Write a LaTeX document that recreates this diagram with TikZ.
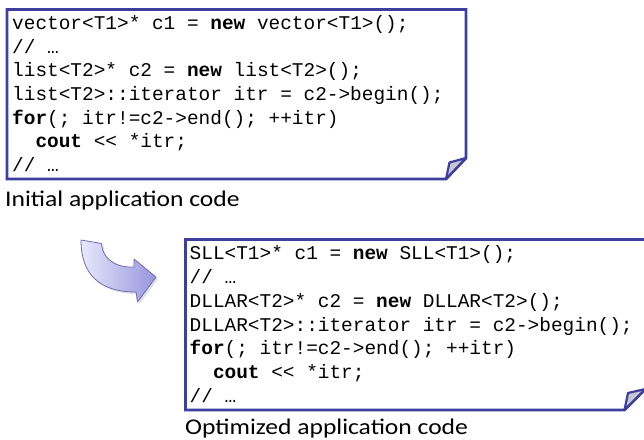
\documentclass[tikz,border=0pt]{standalone}
\usepackage{fontspec}
\newfontfamily\codefont{Liberation Mono}
\newfontfamily\labelfont[FakeStretch=1.14]{Carlito}
\definecolor{boxblue}{RGB}{62,62,158}
\definecolor{flapgray}{RGB}{200,200,208}
\definecolor{arrowlight}{RGB}{232,232,252}
\definecolor{arrowdark}{RGB}{150,150,222}
\definecolor{arrowedge}{RGB}{110,110,180}
\begin{document}
\begin{tikzpicture}[x=1bp,y=-1bp,
  box/.style={draw=boxblue, line width=2.8bp, line join=miter, fill=white},
  flap/.style={draw=boxblue, line width=2.2bp, fill=flapgray, line join=round},
  code/.style={anchor=base west, inner sep=0pt, text=black,
    font=\codefont\fontsize{19.5}{23}\selectfont},
  lbl/.style={anchor=base west, inner sep=0pt, text=black,
    font=\labelfont\fontsize{22.5}{26}\selectfont},
  blockarrow/.style={left color=arrowlight, right color=arrowdark, draw=arrowedge, line width=0.8bp, line join=round},
]
\clip (0,0) rectangle (644,440);
\fill[white] (0,0) rectangle (644,440);

% ---- box 1 ----
\draw[box] (7,9.5) -- (466,9.5) -- (466,158) -- (446,179) -- (7,179) -- cycle;
\draw[flap] (446,179) -- (449.5,162.5) -- (466,158) -- cycle;

\node[code] (a1) at (12,29.5) {vector<T1>* c1 = \textbf{new} vector<T1>();};
\node[code] (a2) at (12,53.2) {// …};
\node[code] (a3) at (12,76.9) {list<T2>* c2 = \textbf{new} list<T2>();};
\node[code] (a4) at (12,100.6) {list<T2>::iterator itr = c2->begin();};
\node[code] (a5) at (12,124.3) {\textbf{for}(; itr!=c2->end(); ++itr)};
\node[code] (a6) at (12,148) {\hphantom{xx}\textbf{cout} << *itr;};
\node[code] (a7) at (12,171.7) {// …};
\node[lbl] (l1) at (5,206.7) {Initial application code};

% ---- curved block arrow ----
\fill[black, opacity=0.12] ([shift={(2,2)}]81,240) .. controls ([shift={(2,2)}]81,275) and ([shift={(2,2)}]100,292) .. ([shift={(2,2)}]136,292)
  -- ([shift={(2,2)}]137.5,302) -- ([shift={(2,2)}]156,277) -- ([shift={(2,2)}]134,259) -- ([shift={(2,2)}]134,267)
  .. controls ([shift={(2,2)}]115,268) and ([shift={(2,2)}]102,258) .. ([shift={(2,2)}]101.5,243.5) -- cycle;
\shade[blockarrow] (81,240) .. controls (81,275) and (100,292) .. (136,292)
  -- (137.5,302) -- (156,277) -- (134,259) -- (134,267)
  .. controls (115,268) and (102,258) .. (101.5,243.5) -- cycle;

% ---- box 2 ----
\draw[box] (185.5,239.5) -- (645.5,239.5) -- (645.5,389) -- (624.5,410) -- (185.5,410) -- cycle;
\draw[flap] (624.5,410) -- (628,393) -- (645.5,389) -- cycle;

\node[code] (b1) at (189.5,260) {SLL<T1>* c1 = \textbf{new} SLL<T1>();};
\node[code] (b2) at (189.5,283.7) {// …};
\node[code] (b3) at (189.5,307.4) {DLLAR<T2>* c2 = \textbf{new} DLLAR<T2>();};
\node[code] (b4) at (189.5,331.1) {DLLAR<T2>::iterator itr = c2->begin();};
\node[code] (b5) at (189.5,354.8) {\textbf{for}(; itr!=c2->end(); ++itr)};
\node[code] (b6) at (189.5,378.5) {\hphantom{xx}\textbf{cout} << *itr;};
\node[code] (b7) at (189.5,402.2) {// …};
\node[lbl] (l2) at (185,434.5) {Optimized application code};
\end{tikzpicture}
\end{document}
